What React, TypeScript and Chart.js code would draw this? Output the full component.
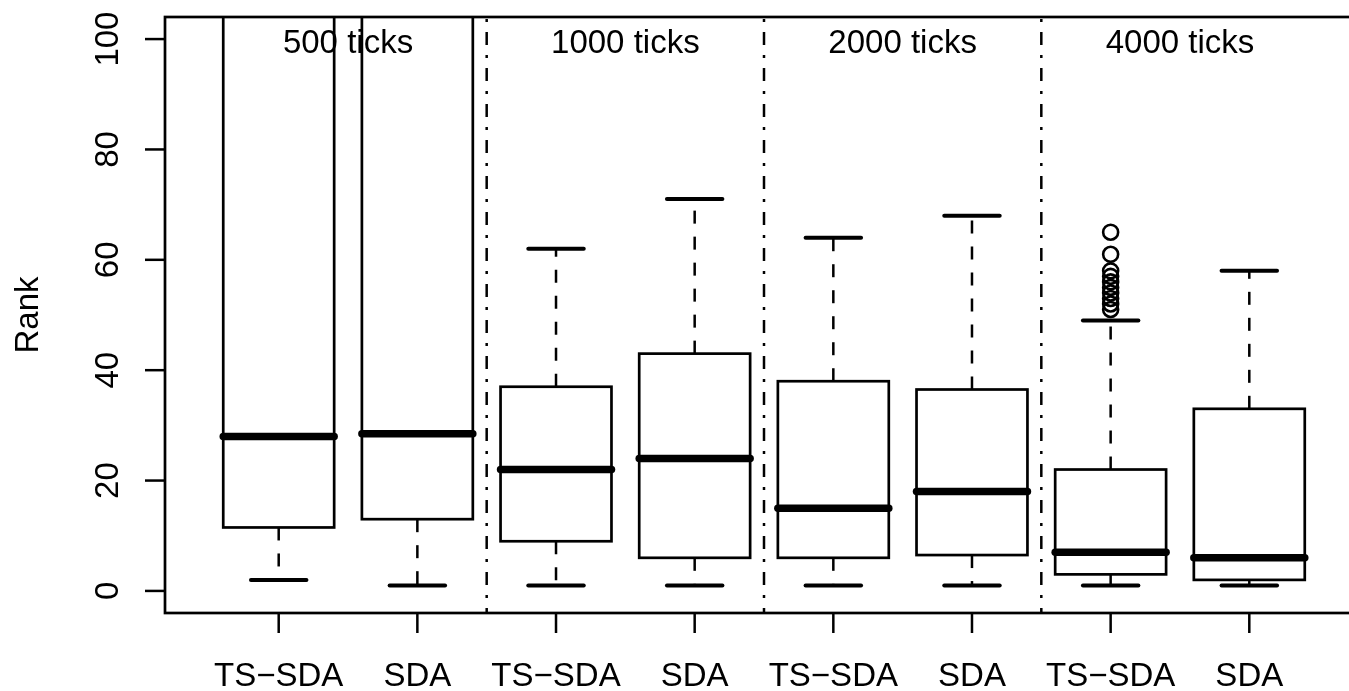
import { useEffect, useRef } from 'react';
import { Chart, registerables } from 'chart.js';

Chart.register(...registerables);

// ---- data ----
const groupLabels = ['500 ticks', '1000 ticks', '2000 ticks', '4000 ticks'];
const groupCenters = [1.5, 3.5, 5.5, 7.5];
const separators = [2.5, 4.5, 6.5];
const categories = ['TS−SDA', 'SDA', 'TS−SDA', 'SDA', 'TS−SDA', 'SDA', 'TS−SDA', 'SDA'];
const whiskerLow = [2, 1, 1, 1, 1, 1, 1, 1];
const q1 = [11.5, 13, 9, 6, 6, 6.5, 3, 2];
const medians = [28, 28.5, 22, 24, 15, 18, 7, 6];
const q3 = [160, 160, 37, 43, 38, 36.5, 22, 33];
const whiskerHigh = [320, 320, 62, 71, 64, 68, 49, 58];
const outlierBox = 7;
const outliers = [51, 52, 53, 54, 55, 56, 57, 58, 61, 65];
const yTicks = [0, 20, 40, 60, 80, 100];
const yTitle = 'Rank';

const CANVAS_W = 1380;
const CANVAS_H = 691;
const FONT = '33px "Liberation Sans", Arial, Helvetica, sans-serif';

function seg(ctx: CanvasRenderingContext2D, x1: number, y1: number, x2: number, y2: number) {
  ctx.beginPath();
  ctx.moveTo(x1, y1);
  ctx.lineTo(x2, y2);
  ctx.stroke();
}

const boxPlugin = {
  id: 'rBoxplot',
  beforeDatasetsDraw(chart: any) {
    const { ctx, chartArea: a, scales } = chart;
    const x = scales.x;
    const y = scales.y;
    ctx.save();
    ctx.beginPath();
    ctx.rect(a.left, a.top, a.right - a.left, a.bottom - a.top);
    ctx.clip();
    ctx.strokeStyle = '#000';

    // dot-dash separators
    ctx.lineWidth = 2.5;
    ctx.lineCap = 'butt';
    ctx.setLineDash([3, 10, 13, 10]);
    ctx.lineDashOffset = -2;
    separators.forEach((s) => {
      const px = x.getPixelForValue(s);
      seg(ctx, px, a.top, px, a.bottom);
    });
    ctx.lineDashOffset = 0;

    for (let i = 0; i < categories.length; i++) {
      const pos = i + 1;
      const cx = x.getPixelForValue(pos);
      const hw = x.getPixelForValue(pos + 0.4) - cx;
      const sw = x.getPixelForValue(pos + 0.2) - cx;
      const yLo = y.getPixelForValue(whiskerLow[i]);
      const yQ1 = y.getPixelForValue(q1[i]);
      const yMed = y.getPixelForValue(medians[i]);
      const yQ3 = y.getPixelForValue(q3[i]);
      const yHi = y.getPixelForValue(whiskerHigh[i]);

      // whiskers (dashed)
      ctx.lineWidth = 2.5;
      ctx.lineCap = 'butt';
      ctx.setLineDash([13, 13]);
      seg(ctx, cx, yQ3, cx, yHi);
      seg(ctx, cx, yQ1, cx, yLo);
      ctx.setLineDash([]);

      // staples
      ctx.lineWidth = 4;
      ctx.lineCap = 'round';
      seg(ctx, cx - sw, yHi, cx + sw, yHi);
      seg(ctx, cx - sw, yLo, cx + sw, yLo);

      // box
      ctx.lineWidth = 2.7;
      ctx.lineCap = 'butt';
      ctx.strokeRect(cx - hw, yQ3, 2 * hw, yQ1 - yQ3);

      // median
      ctx.lineWidth = 7.5;
      ctx.lineCap = 'round';
      seg(ctx, cx - hw, yMed, cx + hw, yMed);
    }
    ctx.restore();
  },
  afterDraw(chart: any) {
    const { ctx, chartArea: a, scales } = chart;
    const x = scales.x;
    const y = scales.y;
    ctx.save();
    ctx.strokeStyle = '#000';
    ctx.fillStyle = '#000';
    ctx.setLineDash([]);
    ctx.lineCap = 'butt';

    // frame
    ctx.lineWidth = 2.7;
    ctx.strokeRect(a.left, a.top, a.right - a.left, a.bottom - a.top);

    ctx.font = FONT;

    // y axis ticks + rotated labels
    ctx.lineWidth = 2.5;
    yTicks.forEach((v) => {
      const py = y.getPixelForValue(v);
      seg(ctx, a.left - 20, py, a.left, py);
      ctx.save();
      ctx.translate(a.left - 47, py);
      ctx.rotate(-Math.PI / 2);
      ctx.textAlign = 'center';
      ctx.textBaseline = 'alphabetic';
      ctx.fillText(String(v), 0, 0);
      ctx.restore();
    });

    // y title
    ctx.save();
    ctx.translate(38, (a.top + a.bottom) / 2);
    ctx.rotate(-Math.PI / 2);
    ctx.textAlign = 'center';
    ctx.textBaseline = 'alphabetic';
    ctx.fillText(yTitle, 0, 0);
    ctx.restore();

    // x axis ticks + labels
    categories.forEach((c, i) => {
      const px = x.getPixelForValue(i + 1);
      seg(ctx, px, a.bottom, px, a.bottom + 20);
      ctx.textAlign = 'center';
      ctx.textBaseline = 'alphabetic';
      ctx.fillText(c, px, 686);
    });

    // group labels
    groupLabels.forEach((g, i) => {
      const px = x.getPixelForValue(groupCenters[i]);
      ctx.textAlign = 'center';
      ctx.textBaseline = 'alphabetic';
      ctx.fillText(g, px, 53);
    });
    ctx.restore();
  },
};

export default function App() {
  const ref = useRef<HTMLCanvasElement>(null);
  useEffect(() => {
    if (!ref.current) return;
    const chart = new Chart(ref.current, {
      type: 'scatter',
      data: {
        datasets: [
          {
            label: 'outliers',
            data: outliers.map((v) => ({ x: outlierBox, y: v })),
            pointRadius: 7.5,
            pointHoverRadius: 7.5,
            pointBorderWidth: 2.6,
            borderColor: '#000',
            backgroundColor: 'rgba(0,0,0,0)',
            pointBackgroundColor: 'rgba(0,0,0,0)',
            pointBorderColor: '#000',
          },
        ],
      },
      options: {
        responsive: false,
        animation: false,
        devicePixelRatio: 1,
        events: [],
        layout: { padding: { left: 165, top: 17, right: CANVAS_W - 1363, bottom: CANVAS_H - 613 } },
        scales: {
          x: { type: 'linear', min: 0.18, max: 8.82, display: false },
          y: { type: 'linear', min: -4, max: 104, display: false },
        },
        plugins: { legend: { display: false }, tooltip: { enabled: false } },
      },
      plugins: [boxPlugin],
    });
    return () => chart.destroy();
  }, []);
  return (
    <div style={{ position: 'fixed', left: 0, top: 0, width: 1349, height: 691, overflow: 'hidden', background: '#fff' }}>
      <canvas ref={ref} width={CANVAS_W} height={CANVAS_H} style={{ display: 'block' }} />
    </div>
  );
}
